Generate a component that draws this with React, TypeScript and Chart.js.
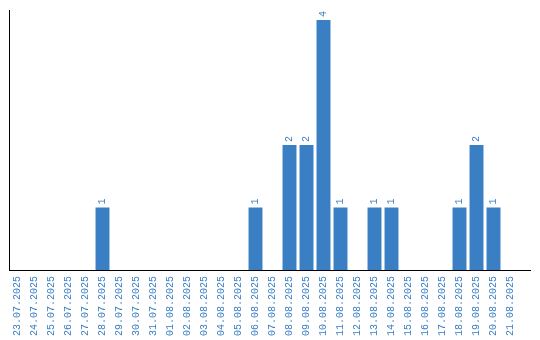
import React, { useEffect, useRef } from "react";
import { Chart, registerables } from "chart.js";

Chart.register(...registerables);

const dates = [
  "23.07.2025", "24.07.2025", "25.07.2025", "26.07.2025", "27.07.2025",
  "28.07.2025", "29.07.2025", "30.07.2025", "31.07.2025", "01.08.2025",
  "02.08.2025", "03.08.2025", "04.08.2025", "05.08.2025", "06.08.2025",
  "07.08.2025", "08.08.2025", "09.08.2025", "10.08.2025", "11.08.2025",
  "12.08.2025", "13.08.2025", "14.08.2025", "15.08.2025", "16.08.2025",
  "17.08.2025", "18.08.2025", "19.08.2025", "20.08.2025", "21.08.2025",
];
const counts = [
  0, 0, 0, 0, 0,
  1, 0, 0, 0, 0,
  0, 0, 0, 0, 1,
  0, 2, 2, 4, 1,
  0, 1, 1, 0, 0,
  0, 1, 2, 1, 0,
];

const BLUE = "#3a7ec3";
const FONT = "'Liberation Mono', monospace";

const valueLabels = {
  id: "valueLabels",
  afterDatasetsDraw(chart: any) {
    const ctx = chart.ctx;
    const meta = chart.getDatasetMeta(0);
    ctx.save();
    ctx.fillStyle = BLUE;
    ctx.font = `10px ${FONT}`;
    ctx.textAlign = "left";
    ctx.textBaseline = "middle";
    meta.data.forEach((bar: any, i: number) => {
      const v = counts[i];
      if (!v) return;
      ctx.save();
      ctx.translate(bar.x, bar.y - 3);
      ctx.rotate(-Math.PI / 2);
      ctx.fillText(String(v), 0, 0);
      ctx.restore();
    });
    ctx.restore();
  },
};

const axisExtension = {
  id: "axisExtension",
  afterDraw(chart: any) {
    const { ctx, chartArea } = chart;
    const y = Math.round(chartArea.bottom + 0.5) - 0.5;
    ctx.save();
    ctx.strokeStyle = "#000";
    ctx.lineWidth = 1;
    ctx.beginPath();
    ctx.moveTo(chartArea.right, y);
    ctx.lineTo(531, y);
    ctx.stroke();
    ctx.restore();
  },
};

export default function App() {
  const ref = useRef<HTMLCanvasElement>(null);
  useEffect(() => {
    if (!ref.current) return;
    const chart = new Chart(ref.current, {
      type: "bar",
      data: {
        labels: dates,
        datasets: [
          {
            data: counts,
            backgroundColor: BLUE,
            borderWidth: 0,
            categoryPercentage: 0.82,
            barPercentage: 1,
          },
        ],
      },
      options: {
        animation: false,
        responsive: true,
        maintainAspectRatio: false,
        layout: { padding: { left: 9, right: 21, top: 10, bottom: 0 } },
        plugins: { legend: { display: false }, tooltip: { enabled: false } },
        scales: {
          x: {
            grid: { display: false, drawTicks: false },
            border: { display: true, color: "#000", width: 1 },
            ticks: {
              color: BLUE,
              font: { family: FONT, size: 10 },
              minRotation: 90,
              maxRotation: 90,
              autoSkip: false,
              padding: 6,
            },
            afterFit: (scale: any) => {
              scale.height = 70;
            },
          },
          y: {
            min: 0,
            max: 4.16,
            grid: { display: false, drawTicks: false },
            border: { display: true, color: "#000", width: 1 },
            ticks: { display: false },
          },
        },
      },
      plugins: [valueLabels, axisExtension],
    });
    return () => chart.destroy();
  }, []);
  return (
    <div style={{ position: "fixed", left: 0, top: 0, width: 540, height: 340, background: "#fff" }}>
      <canvas ref={ref} />
    </div>
  );
}
